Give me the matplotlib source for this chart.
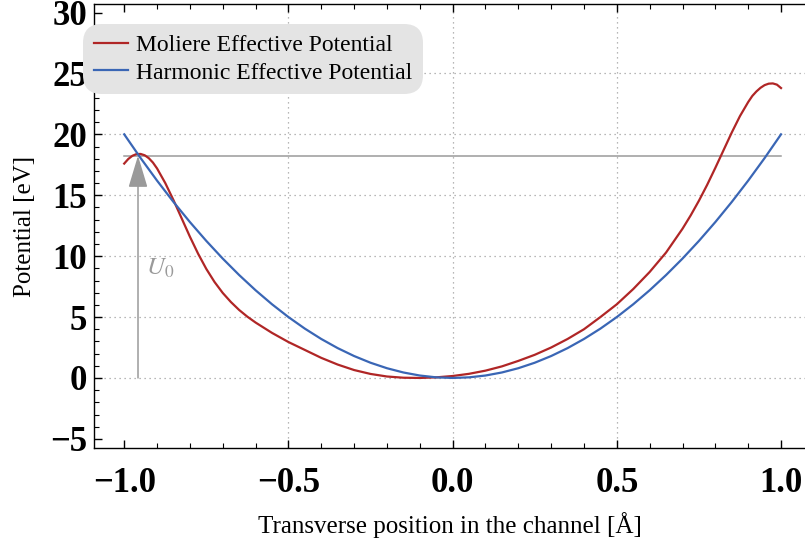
import matplotlib
matplotlib.use('Agg')
import matplotlib.pyplot as plt
from matplotlib.ticker import MultipleLocator

plt.rcParams['font.family'] = 'Liberation Serif'
plt.rcParams['mathtext.fontset'] = 'stix'

# Harmonic effective potential, eV
x_harm = [-1.0, -0.95, -0.9, -0.85, -0.8, -0.75, -0.7, -0.65, -0.6, -0.55, -0.5,
          -0.45, -0.4, -0.35, -0.3, -0.25, -0.2, -0.15, -0.1, -0.05, 0.0,
          0.05, 0.1, 0.15, 0.2, 0.25, 0.3, 0.35, 0.4, 0.45, 0.5,
          0.55, 0.6, 0.65, 0.7, 0.75, 0.8, 0.85, 0.9, 0.95, 1.0]
u_harm = [20.0, 18.05, 16.2, 14.45, 12.8, 11.25, 9.8, 8.45, 7.2, 6.05, 5.0,
          4.05, 3.2, 2.45, 1.8, 1.25, 0.8, 0.45, 0.2, 0.05, 0.0,
          0.05, 0.2, 0.45, 0.8, 1.25, 1.8, 2.45, 3.2, 4.05, 5.0,
          6.05, 7.2, 8.45, 9.8, 11.25, 12.8, 14.45, 16.2, 18.05, 20.0]

# Moliere effective potential, eV
x_mol = [-1.0, -0.9875, -0.975, -0.9625, -0.95, -0.9375, -0.925, -0.9125, -0.9,
         -0.875, -0.85, -0.825, -0.8, -0.775, -0.75, -0.725, -0.7, -0.675, -0.65,
         -0.625, -0.6, -0.55, -0.5, -0.45, -0.4, -0.35, -0.3, -0.25, -0.2,
         -0.15, -0.1, -0.05, 0.0, 0.05, 0.1, 0.15, 0.2, 0.25, 0.3,
         0.35, 0.4, 0.45, 0.5, 0.55, 0.6, 0.65, 0.7, 0.725, 0.75,
         0.775, 0.8, 0.825, 0.85, 0.875, 0.9, 0.9125, 0.925, 0.9375, 0.95,
         0.9625, 0.975, 0.9875, 1.0]
u_mol = [17.6, 17.98, 18.24, 18.38, 18.39, 18.28, 18.04, 17.68, 17.2,
         16.0, 14.6, 13.1, 11.6, 10.2, 8.95, 7.88, 6.98, 6.23, 5.58,
         5.03, 4.55, 3.7, 2.95, 2.3, 1.65, 1.1, 0.65, 0.33, 0.12,
         0.02, 0.0, 0.05, 0.16, 0.34, 0.6, 0.95, 1.4, 1.9, 2.5,
         3.2, 4.0, 5.0, 6.05, 7.3, 8.7, 10.3, 12.25, 13.35, 14.55,
         15.85, 17.25, 18.7, 20.15, 21.5, 22.65, 23.15, 23.52, 23.82, 24.04,
         24.16, 24.18, 24.08, 23.8]

u0_level = 18.25
u0_x = -0.958

red = '#b02626'
blue = '#3a66b5'
gray = '#9a9a9a'

fig = plt.figure(figsize=(8.05, 5.45), dpi=100)
ax = fig.add_axes([94 / 805, 97 / 545, 711 / 805, 444 / 545])

ax.plot(x_mol, u_mol, color=red, lw=1.6, label='Moliere Effective Potential', zorder=3)
ax.plot(x_harm, u_harm, color=blue, lw=1.6, label='Harmonic Effective Potential', zorder=3)

# U0 level and arrow
ax.plot([-1.0, 1.0], [u0_level, u0_level], color=gray, lw=1.1, zorder=2)
ax.annotate('', xy=(u0_x, u0_level), xytext=(u0_x, 0),
            arrowprops=dict(arrowstyle='-|>,head_length=2.0,head_width=0.6',
                            mutation_scale=10, color=gray, lw=1.1,
                            shrinkA=0, shrinkB=0), zorder=2)
ax.text(-0.935, 9.0, '$U_0$', color=gray, fontsize=18, ha='left', va='center')

ax.set_xlim(-1.092, 1.073)
ax.set_ylim(-5.75, 30.7)

ax.xaxis.set_major_locator(MultipleLocator(0.5))
ax.xaxis.set_minor_locator(MultipleLocator(0.1))
ax.yaxis.set_major_locator(MultipleLocator(5))
ax.yaxis.set_minor_locator(MultipleLocator(1))

ax.tick_params(which='both', direction='in', top=True, right=False)
ax.tick_params(which='major', length=6, width=1)
ax.tick_params(which='minor', length=3.5, width=0.8)
ax.tick_params(axis='y', which='major', pad=5)
ax.tick_params(axis='x', which='major', pad=14)

ax.set_xticks([-1.0, -0.5, 0.0, 0.5, 1.0])
ax.set_xticklabels(['\u22121.0', '\u22120.5', '0.0', '0.5', '1.0'])
ax.set_yticks([-5, 0, 5, 10, 15, 20, 25, 30])
ax.set_yticklabels(['\u22125', '0', '5', '10', '15', '20', '25', '30'])
for lab in ax.get_xticklabels() + ax.get_yticklabels():
    lab.set_fontsize(25)
    lab.set_fontweight('bold')

ax.spines['right'].set_visible(False)
for s in ['left', 'bottom', 'top']:
    ax.spines[s].set_linewidth(1.0)

# dotted grid only where the reference has it
for gx in [-0.5, 0.0, 0.5]:
    ax.axvline(gx, color='#a0a0a0', lw=0.9, ls=(0, (1, 3)), zorder=1)
for gy in [0, 5, 10, 15, 20, 25]:
    ax.axhline(gy, color='#a0a0a0', lw=0.9, ls=(0, (1, 3)), zorder=1)

ax.set_xlabel('Transverse position in the channel [\u00c5]', fontsize=18, labelpad=8)
ax.set_ylabel('Potential [eV]', fontsize=18, labelpad=10)

leg = fig.legend(loc='upper left', bbox_to_anchor=(83 / 805, 1 - 24 / 545),
                 bbox_transform=fig.transFigure, fontsize=17, frameon=True,
                 fancybox=True, handlelength=1.45, handletextpad=0.35,
                 borderpad=0.45, labelspacing=0.25, borderaxespad=0)
leg.get_frame().set_facecolor('#e4e4e4')
leg.get_frame().set_edgecolor('none')
leg.get_frame().set_alpha(1.0)
leg.get_frame().set_boxstyle('round,pad=0,rounding_size=0.8')

fig.savefig('out.png', dpi=100)
